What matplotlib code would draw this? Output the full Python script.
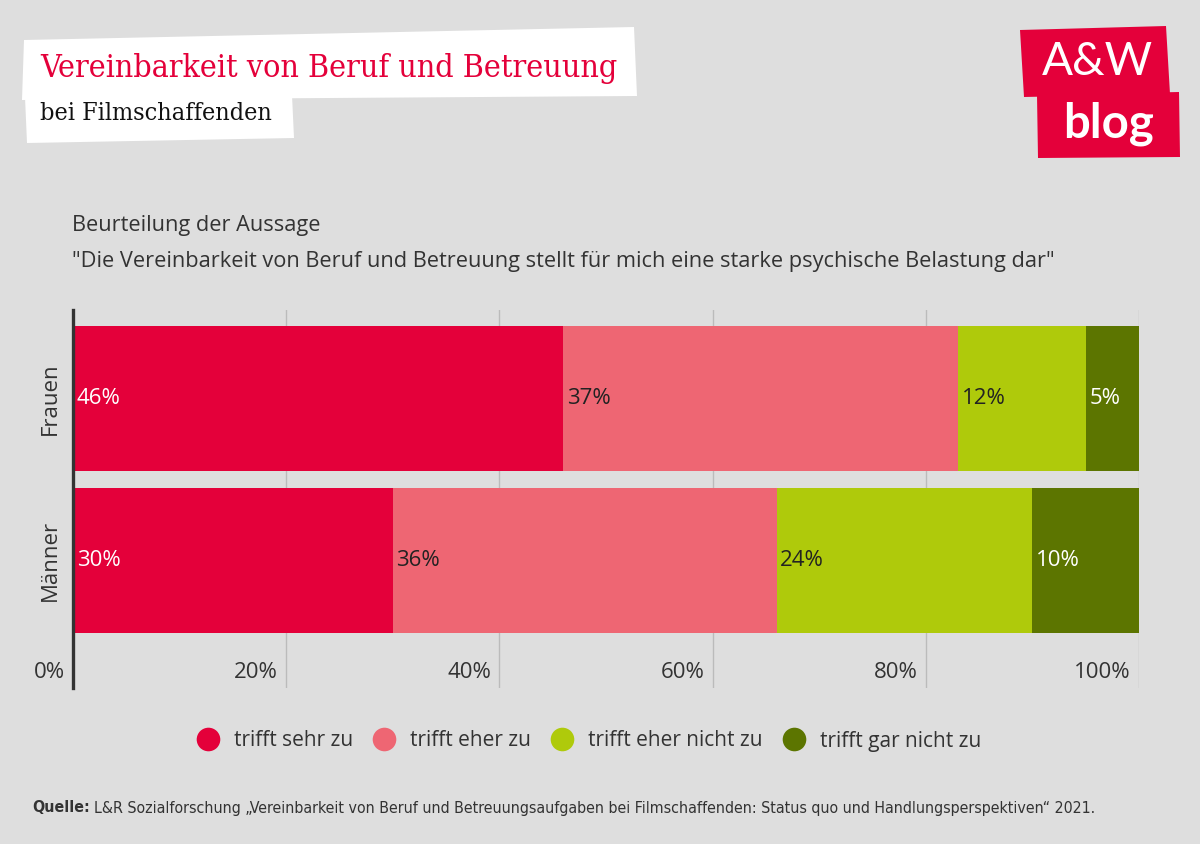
import matplotlib
matplotlib.use("Agg")
import matplotlib.pyplot as plt
import matplotlib.transforms as mtransforms
from matplotlib.patches import Polygon
from matplotlib.lines import Line2D

plt.rcParams['font.family'] = ['Open Sans', 'DejaVu Sans']

# data
groups = ['Frauen', 'Männer']
series = ['trifft sehr zu', 'trifft eher zu', 'trifft eher nicht zu', 'trifft gar nicht zu']
sehr = [46, 30]
eher = [37, 36]
eher_nicht = [12, 24]
gar_nicht = [5, 10]
values = [sehr, eher, eher_nicht, gar_nicht]
colors = ['#E4003A', '#EE6673', '#AFCA0B', '#5C7500']
text_colors = ['white', '#222222', '#222222', 'white']
xticks = [0, 20, 40, 60, 80, 100]

bg = '#DEDEDE'
fig = plt.figure(figsize=(12, 8.44), dpi=100, facecolor=bg)

# title boxes (slightly tilted white paper strips)
fig.patches.append(Polygon([(22/1200, 1-100/844), (637/1200, 1-96/844), (634/1200, 1-27/844), (24/1200, 1-40/844)],
                           closed=True, transform=fig.transFigure, facecolor='white', edgecolor='none'))
fig.patches.append(Polygon([(27/1200, 1-143/844), (294/1200, 1-138/844), (292/1200, 1-95/844), (25/1200, 1-97/844)],
                           closed=True, transform=fig.transFigure, facecolor='white', edgecolor='none'))
fig.text(40/1200, 1-68/844, 'Vereinbarkeit von Beruf und Betreuung', family='DejaVu Serif',
         fontstretch='condensed', fontsize=23, color='#E4003A', va='center', ha='left')
fig.text(40/1200, 1-113/844, 'bei Filmschaffenden', family='DejaVu Serif', fontstretch='condensed',
         fontsize=18, color='#111111', va='center', ha='left')

# logo
fig.patches.append(Polygon([(1024/1200, 1-97/844), (1170/1200, 1-94/844), (1166/1200, 1-26/844), (1020/1200, 1-30/844)],
                           closed=True, transform=fig.transFigure, facecolor='#E4003A', edgecolor='none'))
fig.patches.append(Polygon([(1038/1200, 1-158/844), (1180/1200, 1-157/844), (1179/1200, 1-92/844), (1037/1200, 1-95/844)],
                           closed=True, transform=fig.transFigure, facecolor='#E4003A', edgecolor='none'))
fig.text(1097/1200, 1-62/844, 'A&W', color='white', fontsize=33, family='Lato', fontweight='normal',
         ha='center', va='center')
fig.text(1108/1200, 1-124/844, 'blog', color='white', fontsize=34, family='Lato', fontweight='bold',
         ha='center', va='center')

# question text
fig.text(72/1200, 1-226/844, 'Beurteilung der Aussage', fontsize=15.7, color='#333333', va='center')
fig.text(72/1200, 1-262/844,
         '"Die Vereinbarkeit von Beruf und Betreuung stellt für mich eine starke psychische Belastung dar"',
         fontsize=15.7, color='#333333', va='center')

ax = fig.add_axes([73/1200, 1-688/844, 1066/1200, 378/844])
ax.set_facecolor(bg)
ypos = [1, 0]
left = [0, 0]
for vals, col, tcol, name in zip(values, colors, text_colors, series):
    ax.barh(ypos, vals, left=left, height=0.895, color=col, label=name, zorder=2)
    for y, l, v in zip(ypos, left, vals):
        ax.text(l + 0.35, y, f'{v}%', color=tcol, fontsize=16, va='center', ha='left', zorder=3)
    left = [a + b for a, b in zip(left, vals)]

ax.set_xlim(0, 100)
ax.set_ylim(-0.787, 1.546)
for t in xticks[1:]:
    ax.axvline(t, color='#BBBBBB', lw=1, zorder=1)
for s in ['top', 'right', 'bottom']:
    ax.spines[s].set_visible(False)
ax.spines['left'].set_color('#333333')
ax.spines['left'].set_linewidth(2.4)
ax.set_xticks([])
ax.set_yticks([])

trans = mtransforms.blended_transform_factory(ax.transData, ax.transAxes) + \
    mtransforms.ScaledTranslation(-8/100, 0, fig.dpi_scale_trans)
for t in xticks:
    ax.text(t, 16/378, f'{t}%', transform=trans, ha='right', va='center', fontsize=16, color='#333333')

for y, g in zip(ypos, groups):
    ax.text(-23/1066*100, y, g, rotation=90, ha='center', va='center', fontsize=16, color='#333333')

handles = [Line2D([], [], marker='o', linestyle='none', markersize=17, markerfacecolor=c,
                  markeredgecolor='none') for c in colors]
fig.legend(handles, series, loc='center', bbox_to_anchor=(584/1200, 1-741/844), ncol=4, frameon=False,
           fontsize=15, labelcolor='#333333', handletextpad=0.25, columnspacing=0.5)

# source line
src_font = dict(family='DejaVu Sans', fontstretch='condensed', fontsize=11.4, color='#333333', va='center')
q = fig.text(32/1200, 1-808/844, 'Quelle:', fontweight='bold', **src_font)
r = fig.canvas.get_renderer()
qw = q.get_window_extent(r).width
fig.text((32 + qw + 4)/1200, 1-808/844,
         'L&R Sozialforschung „Vereinbarkeit von Beruf und Betreuungsaufgaben bei Filmschaffenden: '
         'Status quo und Handlungsperspektiven“ 2021.', **src_font)

fig.savefig('out.png', dpi=100, facecolor=bg)
